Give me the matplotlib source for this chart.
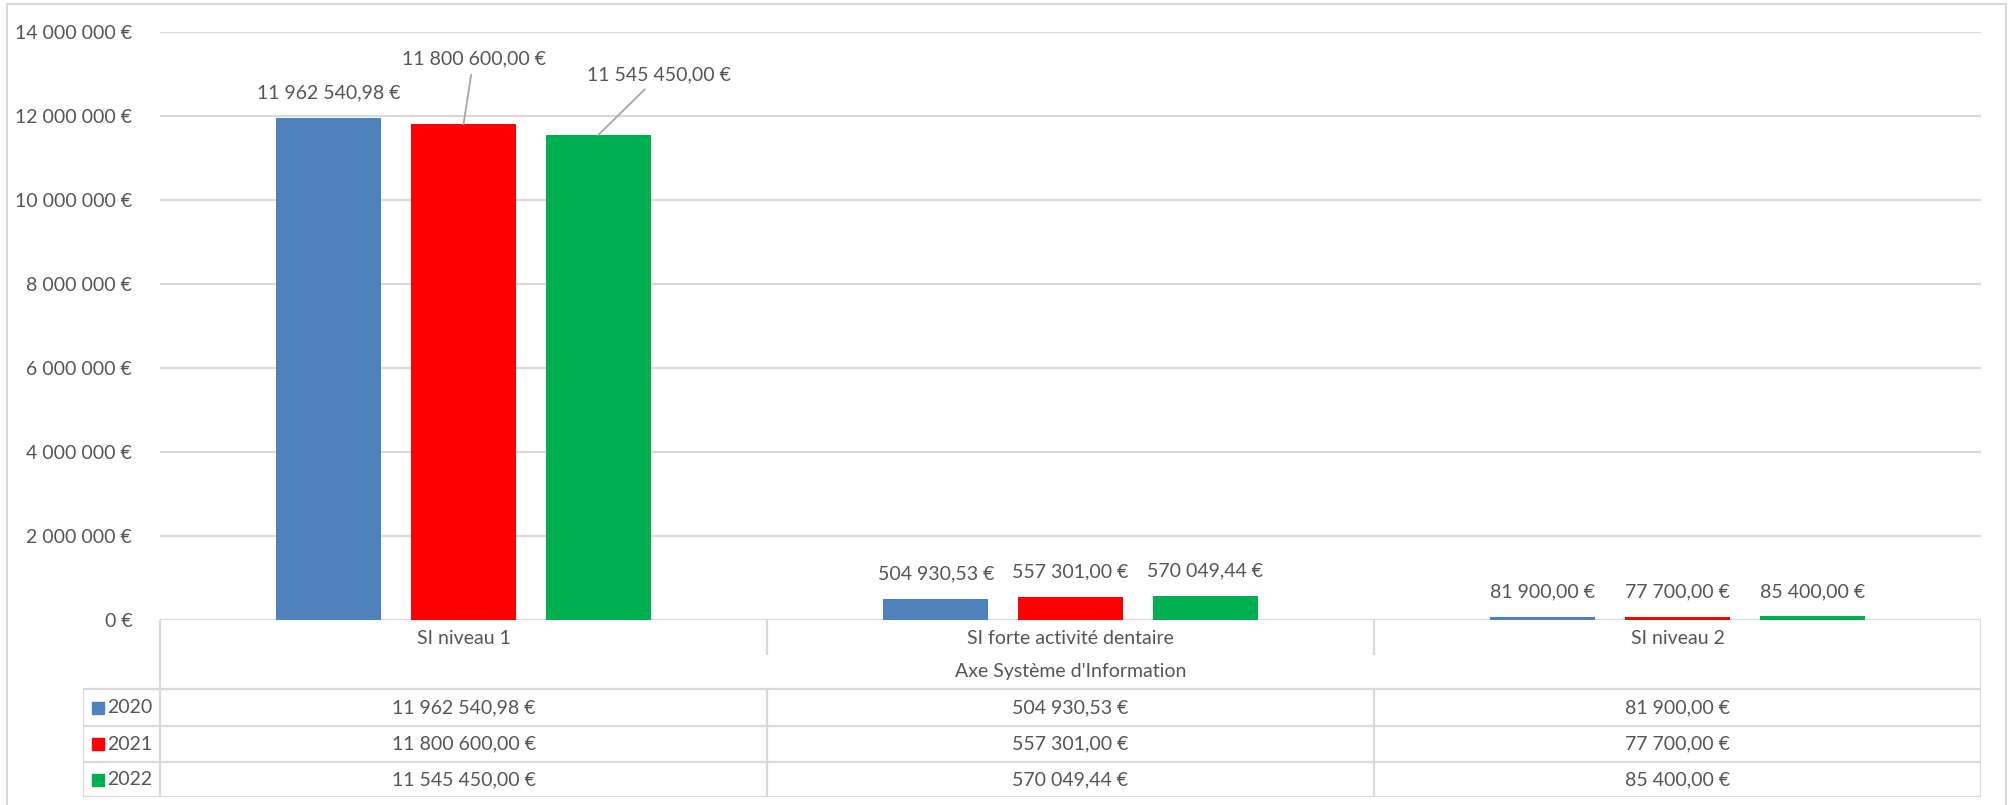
import numpy as np
import matplotlib
matplotlib.use('Agg')
import matplotlib.pyplot as plt
from matplotlib.patches import Rectangle

categories = ['SI niveau 1', 'SI forte activité dentaire', 'SI niveau 2']
years = ['2020', '2021', '2022']
v2020 = [11962540.98, 504930.53, 81900.00]
v2021 = [11800600.00, 557301.00, 77700.00]
v2022 = [11545450.00, 570049.44, 85400.00]
axis_title = "Axe Système d'Information"
yticks = [0, 2000000, 4000000, 6000000, 8000000, 10000000, 12000000, 14000000]

series = [v2020, v2021, v2022]
colors = ['#4f81bd', '#ff0000', '#00b050']
txt = '#555555'
grid = '#d9d9d9'

plt.rcParams['font.family'] = ['Lato', 'DejaVu Sans']
plt.rcParams['font.size'] = 14


def euro(v):
    return '{:,.2f}'.format(v).replace(',', ' ').replace('.', ',') + ' €'


def euro0(v):
    return '{:,.0f}'.format(v).replace(',', ' ') + ' €'


W, H = 2013, 805
fig = plt.figure(figsize=(W / 100, H / 100), dpi=100)

# plot area, pixel layout of the reference
left, right, top, base = 160, 1981, 32, 620
ax = fig.add_axes([left / W, (H - base) / H, (right - left) / W, (base - top) / H])
ax.set_xlim(-0.5, 2.5)
ax.set_ylim(0, 14000000)
ax.set_yticks(yticks)
ax.set_yticklabels([euro0(v) for v in yticks], color=txt)
ax.set_xticks([])
ax.tick_params(axis='y', length=0, pad=20)
for s in ax.spines.values():
    s.set_visible(False)
ax.yaxis.grid(True, color=grid, lw=1.6)
ax.set_axisbelow(True)

x = np.arange(len(categories))
bw = 0.173
step = 0.222
for i, vals in enumerate(series):
    xs = x + (i - 1) * step
    ax.bar(xs, vals, width=bw, color=colors[i], zorder=2)
    for j, (xx, v) in enumerate(zip(xs, vals)):
        if j == 0 and i == 1:
            ax.annotate(euro(v), (xx, v), xytext=(10, 65), textcoords='offset pixels',
                        ha='center', va='center', color=txt,
                        arrowprops=dict(arrowstyle='-', color='#a6a6a6', lw=1.3,
                                        shrinkA=3, shrinkB=0))
        elif j == 0 and i == 2:
            ax.annotate(euro(v), (xx, v), xytext=(61, 60), textcoords='offset pixels',
                        ha='center', va='center', color=txt,
                        arrowprops=dict(arrowstyle='-', color='#a6a6a6', lw=1.3,
                                        shrinkA=3, shrinkB=0))
        else:
            ax.annotate(euro(v), (xx, v), xytext=(0, 25), textcoords='offset pixels',
                        ha='center', va='center', color=txt)

# data table under the plot
tleft, tbot = 83, 797
catw = (right - left) / 3
tab = fig.add_axes([tleft / W, (H - tbot) / H, (right - tleft) / W, (tbot - base) / H])
x0 = -0.5 - (left - tleft) / catw
tab.set_xlim(x0, 2.5)
tab.set_ylim(tbot - base, 0)
tab.axis('off')

lkw = dict(color=grid, lw=1.6, solid_capstyle='butt')
rows = [69, 106, 142, 177]
for r in rows:
    tab.plot([x0, 2.5], [r, r], **lkw)
tab.plot([x0, x0], [rows[0], rows[-1]], **lkw)
tab.plot([-0.5, -0.5], [0, rows[-1]], **lkw)
tab.plot([2.5, 2.5], [0, rows[-1]], **lkw)
for d in [0.5, 1.5]:
    tab.plot([d, d], [0, 35], **lkw)
    tab.plot([d, d], [rows[0], rows[-1]], **lkw)

for j, c in enumerate(categories):
    tab.text(j, 18, c, ha='center', va='center', color=txt)
tab.text(1, 51, axis_title, ha='center', va='center', color=txt)

for i, vals in enumerate(series):
    yc = (rows[i] + rows[i + 1]) / 2
    tab.plot([-0.5 - (left - 98) / catw], [yc], marker='s', ms=8.5, color=colors[i], ls='none')
    tab.text(-0.5 - (left - 107) / catw, yc, years[i], ha='left', va='center', color=txt)
    for j, v in enumerate(vals):
        tab.text(j, yc, euro(v), ha='center', va='center', color=txt)

# outer chart frame
fig.add_artist(Rectangle((7 / W, -5 / H), 1999 / W, (H - 4 + 5) / H, transform=fig.transFigure,
                         fill=False, ec=grid, lw=1.5))

fig.savefig('out.png', dpi=100)
